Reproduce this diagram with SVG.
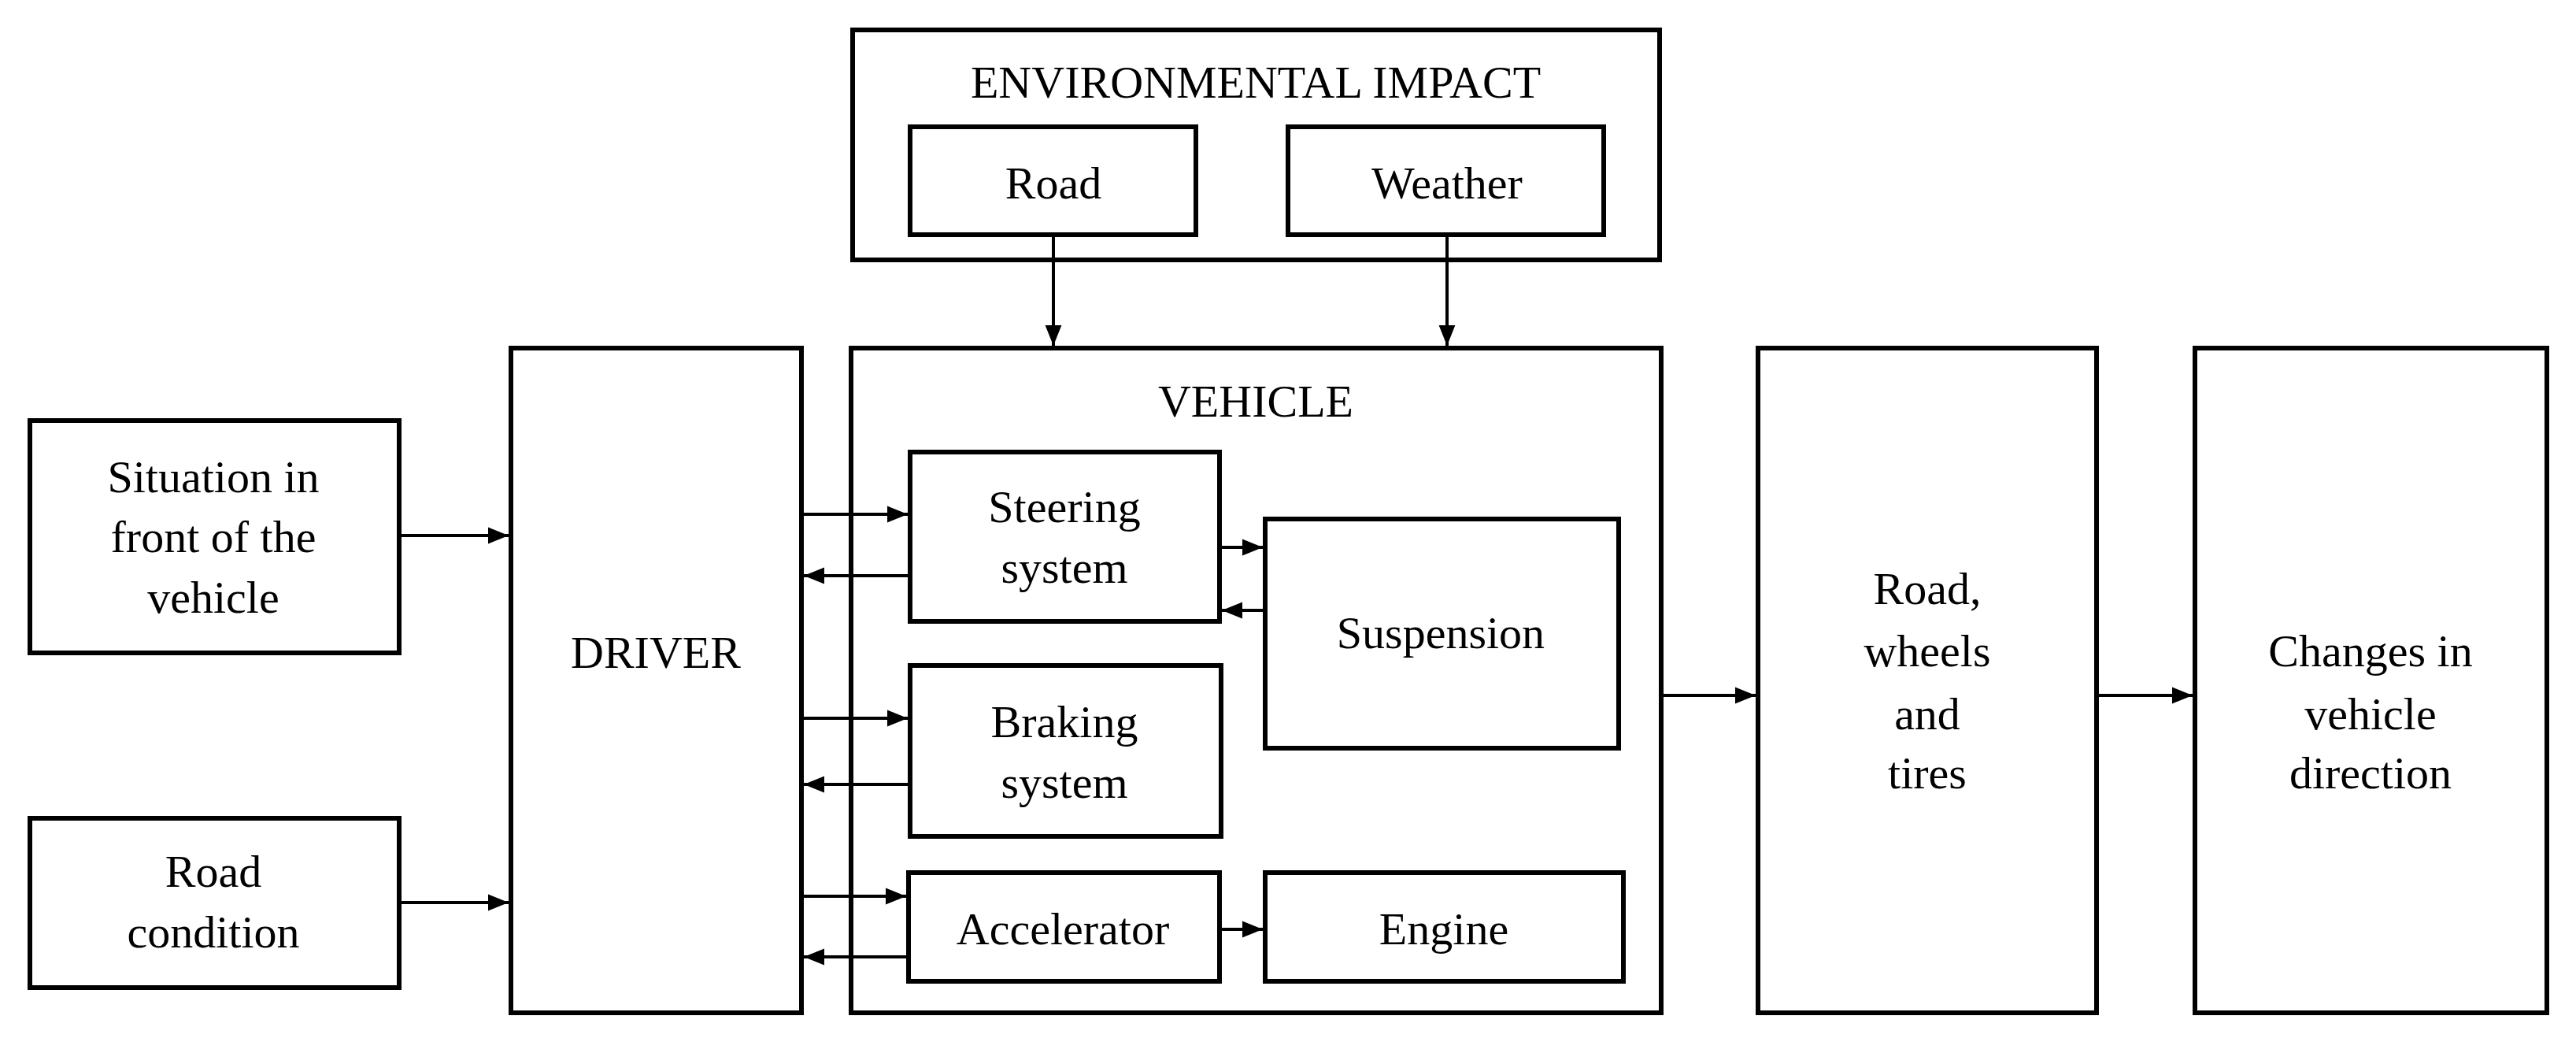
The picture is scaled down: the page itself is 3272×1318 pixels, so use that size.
<svg xmlns="http://www.w3.org/2000/svg" width="3272" height="1318" viewBox="0 0 3272 1318">
<style>
rect{fill:#fff;stroke:#000;stroke-width:6}
text{font-family:"Liberation Serif","DejaVu Serif",serif;font-size:58px;text-anchor:middle;dominant-baseline:central;fill:#000}
.c line{stroke:#000;stroke-width:4}
</style>
<defs><marker id="a" viewBox="0 0 10 10" refX="10" refY="5" markerWidth="6" markerHeight="6" markerUnits="userSpaceOnUse" orient="auto" style="overflow:visible"><path d="M0,0L10,5L0,10z" fill="#000" transform="scale(1)"/></marker>
<marker id="b" viewBox="0 0 10 10" refX="10" refY="5" markerWidth="26" markerHeight="26" markerUnits="userSpaceOnUse" orient="auto"><path d="M0,1L10,5L0,9z" fill="#000"/></marker></defs>
<g id="env"><rect x="1083" y="38" width="1025" height="292"/><text x="1595" y="104">ENVIRONMENTAL IMPACT</text></g>
<g id="road"><rect x="1156" y="161" width="363" height="137"/><text x="1338" y="232">Road</text></g>
<g id="weather"><rect x="1636" y="161" width="401" height="137"/><text x="1838" y="232">Weather</text></g>
<g id="vehicle"><rect x="1081" y="442" width="1029" height="844"/><text x="1595" y="509">VEHICLE</text></g>
<g id="driver"><rect x="649" y="442" width="369" height="844"/><text x="833" y="828">DRIVER</text></g>
<g id="situation"><rect x="38" y="534" width="469" height="295"/><text x="271" y="605">Situation in</text><text x="271" y="681">front of the</text><text x="271" y="758">vehicle</text></g>
<g id="roadcond"><rect x="38" y="1039" width="469" height="215"/><text x="271" y="1106">Road</text><text x="271" y="1183">condition</text></g>
<g id="steering"><rect x="1156" y="574" width="393" height="215"/><text x="1352" y="643">Steering</text><text x="1352" y="720">system</text></g>
<g id="braking"><rect x="1156" y="845" width="395" height="217"/><text x="1352" y="916">Braking</text><text x="1352" y="993">system</text></g>
<g id="accel"><rect x="1154" y="1108" width="395" height="138"/><text x="1350" y="1179">Accelerator</text></g>
<g id="suspension"><rect x="1607" y="659" width="449" height="291"/><text x="1830" y="803">Suspension</text></g>
<g id="engine"><rect x="1607" y="1108" width="455" height="138"/><text x="1834" y="1179">Engine</text></g>
<g id="rwt"><rect x="2233" y="442" width="430" height="844"/><text x="2448" y="747">Road,</text><text x="2448" y="826">wheels</text><text x="2448" y="906">and</text><text x="2448" y="981">tires</text></g>
<g id="changes"><rect x="2788" y="442" width="447" height="844"/><text x="3011" y="826">Changes in</text><text x="3011" y="906">vehicle</text><text x="3011" y="981">direction</text></g>
<g class="c">
<line x1="1338" y1="298" x2="1338" y2="439" marker-end="url(#b)"/>
<line x1="1838" y1="298" x2="1838" y2="439" marker-end="url(#b)"/>
<line x1="507" y1="680" x2="646" y2="680" marker-end="url(#b)"/>
<line x1="507" y1="1146" x2="646" y2="1146" marker-end="url(#b)"/>
<line x1="1018" y1="653" x2="1153" y2="653" marker-end="url(#b)"/>
<line x1="1156" y1="731" x2="1021" y2="731" marker-end="url(#b)"/>
<line x1="1018" y1="912" x2="1153" y2="912" marker-end="url(#b)"/>
<line x1="1156" y1="996" x2="1021" y2="996" marker-end="url(#b)"/>
<line x1="1018" y1="1138" x2="1151" y2="1138" marker-end="url(#b)"/>
<line x1="1154" y1="1215" x2="1021" y2="1215" marker-end="url(#b)"/>
<line x1="1549" y1="695" x2="1604" y2="695" marker-end="url(#b)"/>
<line x1="1607" y1="775" x2="1552" y2="775" marker-end="url(#b)"/>
<line x1="1549" y1="1180" x2="1604" y2="1180" marker-end="url(#b)"/>
<line x1="2110" y1="883" x2="2230" y2="883" marker-end="url(#b)"/>
<line x1="2663" y1="883" x2="2785" y2="883" marker-end="url(#b)"/>
</g>
</svg>
